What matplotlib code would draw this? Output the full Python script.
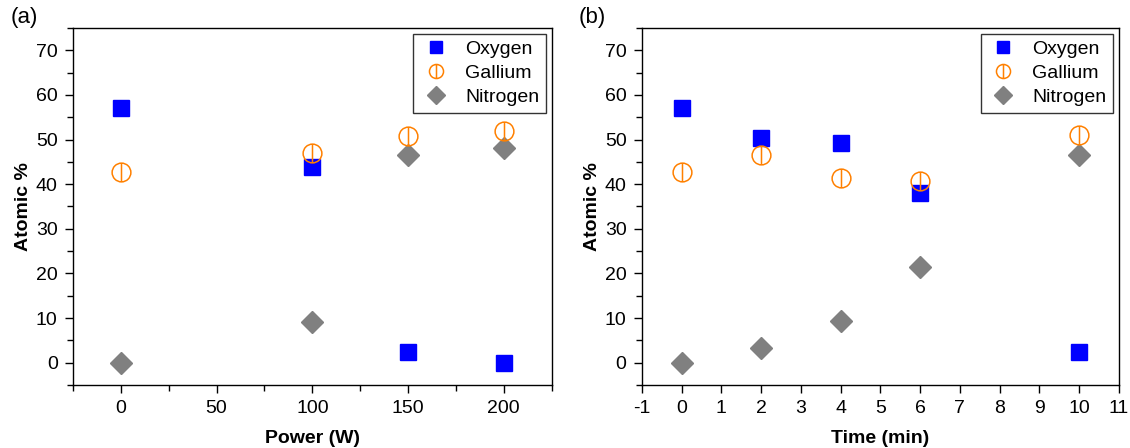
import numpy as np
import matplotlib.pyplot as plt
from matplotlib.path import Path
from matplotlib.ticker import MultipleLocator

plt.rcParams['font.family'] = ['Liberation Sans', 'DejaVu Sans']
plt.rcParams['axes.unicode_minus'] = False

# (a) power series
power = [0, 100, 150, 200]
oxy_a = [57.1, 43.9, 2.4, 0.0]
gal_a = [42.7, 47.0, 50.9, 51.9]
nit_a = [0.0, 9.1, 46.5, 48.0]

# (b) time series
time = [0, 2, 4, 6, 10]
oxy_b = [57.1, 50.4, 49.3, 38.0, 2.5]
gal_b = [42.8, 46.5, 41.4, 40.6, 51.0]
nit_b = [0.0, 3.2, 9.4, 21.4, 46.5]

# circle with a vertical bar through it (how the gallium points look)
circ = Path.unit_circle()
bar = Path([(0, -1), (0, 1)], [Path.MOVETO, Path.LINETO])
gal_marker = Path.make_compound_path(circ, bar)

blue = '#0000FF'
orange = '#FF8000'
grey = '#808080'

fig = plt.figure(figsize=(11.3, 4.48), dpi=100)
ax1 = fig.add_axes([0.0646, 0.1406, 0.4236, 0.797])
ax2 = fig.add_axes([0.568, 0.1406, 0.4221, 0.797])


def draw(ax, x, oxy, gal, nit):
    ax.plot(x, oxy, ls='none', marker='s', ms=12, color=blue, mec=blue, label='Oxygen', zorder=3)
    ax.plot(x, gal, ls='none', marker=gal_marker, ms=13.5, mfc='none', mec=orange, mew=1.1,
            label='Gallium', zorder=4)
    ax.plot(x, nit, ls='none', marker='D', ms=11.7, color=grey, mec=grey, label='Nitrogen', zorder=3)
    ax.set_ylim(-5, 75)
    ax.yaxis.set_major_locator(MultipleLocator(10))
    ax.yaxis.set_minor_locator(MultipleLocator(5))
    ax.set_ylabel('Atomic %', fontsize=14, fontweight='bold', labelpad=3)
    ax.tick_params(which='both', direction='out', top=False, right=False, labelsize=14, width=1, pad=5)
    ax.tick_params(which='major', length=6)
    ax.tick_params(which='minor', length=4)
    for s in ax.spines.values():
        s.set_linewidth(1.0)
    leg = ax.legend(loc='upper right', fontsize=14, markerscale=0.75, frameon=True, fancybox=False,
                    edgecolor='black', borderaxespad=0.3, handletextpad=0.7, labelspacing=0.32,
                    borderpad=0.35, handlelength=1.6)
    leg.get_frame().set_linewidth(1.0)


draw(ax1, power, oxy_a, gal_a, nit_a)
ax1.set_xlim(-25, 225)
ax1.xaxis.set_major_locator(MultipleLocator(50))
ax1.xaxis.set_minor_locator(MultipleLocator(25))
ax1.set_xlabel('Power (W)', fontsize=14, fontweight='bold', labelpad=9)

draw(ax2, time, oxy_b, gal_b, nit_b)
ax2.set_xlim(-1, 11)
ax2.xaxis.set_major_locator(MultipleLocator(1))
ax2.set_xlabel('Time (min)', fontsize=14, fontweight='bold', labelpad=9)

fig.text(0.009, 0.985, '(a)', fontsize=16, va='top', ha='left')
fig.text(0.512, 0.985, '(b)', fontsize=16, va='top', ha='left')

fig.savefig('out.png', dpi=100)
